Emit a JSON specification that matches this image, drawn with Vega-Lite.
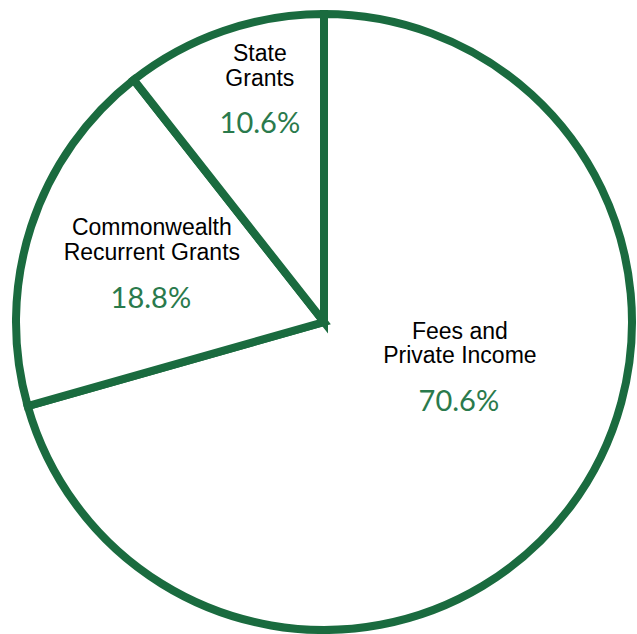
{
  "$schema": "https://vega.github.io/schema/vega-lite/v6.json",
  "width": 616,
  "height": 616,
  "autosize": {"type": "none"},
  "padding": {"left": 16, "top": 14, "right": 5, "bottom": 4},
  "background": "white",
  "config": {"view": {"stroke": null}},
  "data": {
    "values": [
      {"category": "Fees and Private Income", "label": "Fees and\nPrivate Income", "value": 70.6, "pct": "70.6%", "order": 1},
      {"category": "Commonwealth Recurrent Grants", "label": "Commonwealth\nRecurrent Grants", "value": 18.8, "pct": "18.8%", "order": 2},
      {"category": "State Grants", "label": "State\nGrants", "value": 10.6, "pct": "10.6%", "order": 3}
    ]
  },
  "encoding": {
    "theta": {"field": "value", "type": "quantitative", "stack": true},
    "order": {"field": "order", "type": "quantitative"}
  },
  "layer": [
    {
      "mark": {"type": "arc", "fill": "white", "stroke": "#1a6b3f", "strokeWidth": 8, "strokeJoin": "miter"}
    },
    {
      "mark": {"type": "text", "radius": 236, "dx": 13, "dy": -45, "font": "Liberation Sans", "fontSize": 23, "lineHeight": 25, "lineBreak": "\n", "color": "#000000", "align": "center", "baseline": "middle"},
      "encoding": {"text": {"condition": {"test": "datum.order === 3", "field": "label"}, "value": ""}}
    },
    {
      "mark": {"type": "text", "radius": 236, "dx": 13, "dy": 25, "font": "Lato", "fontWeight": 400, "fontSize": 29, "color": "#2a7a4c", "align": "center", "baseline": "middle"},
      "encoding": {"text": {"condition": {"test": "datum.order === 3", "field": "pct"}, "value": ""}}
    },
    {
      "mark": {"type": "text", "radius": 181, "dx": 0, "dy": -38, "font": "Liberation Sans", "fontSize": 23, "lineHeight": 25, "lineBreak": "\n", "color": "#000000", "align": "center", "baseline": "middle"},
      "encoding": {"text": {"condition": {"test": "datum.order === 2", "field": "label"}, "value": ""}}
    },
    {
      "mark": {"type": "text", "radius": 181, "dx": -1, "dy": 33, "font": "Lato", "fontWeight": 400, "fontSize": 29, "color": "#2a7a4c", "align": "center", "baseline": "middle"},
      "encoding": {"text": {"condition": {"test": "datum.order === 2", "field": "pct"}, "value": ""}}
    },
    {
      "mark": {"type": "text", "radius": 144, "dx": 21, "dy": -77, "font": "Liberation Sans", "fontSize": 23, "lineHeight": 24, "lineBreak": "\n", "color": "#000000", "align": "center", "baseline": "middle"},
      "encoding": {"text": {"condition": {"test": "datum.order === 1", "field": "label"}, "value": ""}}
    },
    {
      "mark": {"type": "text", "radius": 144, "dx": 20, "dy": -7, "font": "Lato", "fontWeight": 400, "fontSize": 29, "color": "#2a7a4c", "align": "center", "baseline": "middle"},
      "encoding": {"text": {"condition": {"test": "datum.order === 1", "field": "pct"}, "value": ""}}
    }
  ]
}
